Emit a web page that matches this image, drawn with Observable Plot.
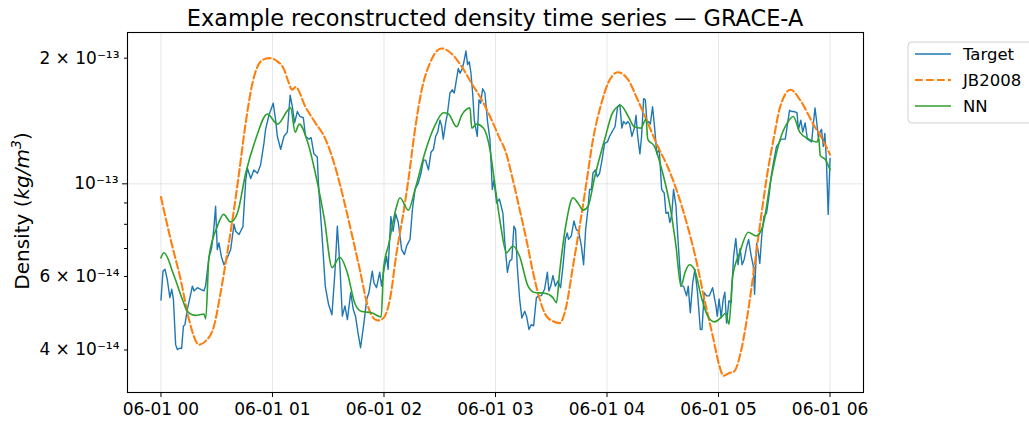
<!DOCTYPE html>
<html>
<head>
<meta charset="utf-8">
<script src="https://cdn.jsdelivr.net/npm/d3@7"></script>
<script src="https://cdn.jsdelivr.net/npm/@observablehq/plot@0.6"></script>
<style>
  html, body { margin: 0; padding: 0; background: #fff; }
  #chart { position: relative; width: 1029px; height: 421px; overflow: hidden; }
</style>
</head>
<body>
<div id="chart"></div>
<script>
// ---------------- data (time in minutes after 06-01 00:00, density in units of 1e-14 kg/m^3) ----------------
const UNIT = 1e-14;

const targetMinutes = [
  0,1.1,2.2,3.4,4.8,5.8,6.7,7.9,8.8,10.1,
  11.1,12.1,12.9,14.2,15.6,16.9,17.8,19.6,21.4,23.1,
  24.0,25.8,27.3,28.5,29.4,30.3,31.2,32.5,33.9,35.7,
  37.5,39.3,40.2,42.0,44.1,45.6,46.5,48.3,50.0,51.9,
  53.6,55.4,56.3,58.1,60.4,61.7,62.6,64.4,66.2,68.0,
  69.5,70.7,71.9,73.4,74.8,76.6,77.8,79.6,80.8,82.3,
  84.1,84.8,86.6,88.4,90.2,92.0,93.6,94.9,96.3,97.6,
  99.0,100.3,102.1,103.5,104.7,106.0,107.4,109.2,110.7,111.9,
  113.7,114.6,116.0,117.7,118.7,120.0,121.4,122.2,123.7,124.9,
  126.3,127.7,129.5,131.0,132.2,134.0,135.3,136.7,138.5,139.9,
  141.2,142.4,143.9,145.3,146.6,147.8,148.9,150.1,151.0,151.9,
  153.2,154.2,155.5,156.8,157.8,159.1,160.0,160.9,162.2,163.2,
  164.1,165.0,165.9,166.8,167.7,168.6,169.5,170.2,171.1,172.0,
  173.1,174.3,175.8,177.0,178.3,179.2,180.6,182.1,184.0,184.9,
  186.4,187.6,188.8,189.9,190.8,191.7,193.0,194.2,195.7,196.7,
  198.0,199.3,200.5,202.0,203.2,204.7,206.4,207.9,208.7,209.7,
  210.9,212.2,213.6,215.0,216.3,217.6,218.6,219.3,220.8,222.2,
  223.5,224.7,226.2,227.4,228.5,229.7,230.6,231.6,232.4,233.7,
  234.8,236.0,237.3,238.7,240.2,241.4,242.6,244.3,245.7,246.9,
  248.0,248.9,250.2,251.1,252.2,253.4,254.7,255.6,256.5,257.7,
  258.6,259.7,260.6,261.5,262.4,263.3,264.5,265.5,266.8,268.1,
  269.4,270.8,271.7,272.9,273.8,274.8,275.8,277.1,278.4,279.8,
  281.2,282.8,283.7,284.8,286.1,287.3,288.7,290.2,291.1,292.3,
  293.6,295.0,296.8,298.6,299.3,300.3,301.4,302.5,303.4,304.3,
  305.6,306.8,308.1,309.3,310.5,311.6,312.7,313.8,315.2,316.2,
  317.5,318.7,319.4,320.5,321.2,322.2,323.3,324.4,325.8,327.1,
  328.3,329.8,331.2,332.4,333.6,334.8,335.9,337.2,338.2,339.5,
  340.7,342.2,343.0,344.3,345.3,346.6,347.8,348.9,350.1,351.0,
  351.9,352.8,353.7,354.6,355.4,356.4,357.2,358.1,359.0,360.0
];
const targetDensity = [
  5.27,6.18,6.24,5.9,5.34,5.59,5.29,4.12,4.01,4.04,
  4.03,4.56,4.6,5.0,5.34,5.69,5.54,5.64,5.59,5.54,
  5.69,6.65,7.03,7.85,8.84,6.96,7.22,6.7,6.4,6.65,
  6.96,8.0,7.7,7.56,7.9,10.2,10.9,10.3,10.8,10.6,
  11.1,12.5,13.5,14.6,15.6,14.2,13.0,12.1,13.0,13.3,
  16.3,15.3,14.0,14.9,14.5,14.4,13.0,12.8,12.9,11.8,
  11.6,9.9,7.6,5.69,5.14,4.86,6.14,7.92,6.35,4.82,
  5.1,4.73,5.49,5.0,4.82,4.4,4.05,4.64,5.29,5.49,
  6.18,5.79,5.64,6.14,5.69,6.24,6.7,6.24,8.35,7.7,
  8.47,8.08,6.96,6.77,7.1,7.36,8.68,9.69,10.05,10.6,
  11.4,11.4,10.8,11.9,12.1,13.0,13.3,14.2,13.8,12.8,
  14.0,14.8,16.5,16.8,16.5,17.9,18.9,18.4,18.9,19.8,
  20.8,19.3,19.6,18.4,16.5,14.2,13.5,13.0,15.9,15.6,
  16.9,16.5,14.0,12.8,9.7,10.2,9.0,9.2,8.5,7.36,
  6.14,6.53,6.6,7.92,7.77,6.35,5.29,4.77,4.95,4.82,
  4.48,4.6,4.57,5.34,5.39,5.4,5.59,6.14,5.54,5.69,
  6.03,5.69,5.85,5.64,6.35,7.36,7.63,7.36,7.5,8.15,
  7.77,7.7,7.1,6.4,7.77,8.68,9.69,9.69,10.6,10.8,
  10.4,10.6,11.4,12.5,12.6,13.0,13.3,13.7,15.3,15.5,
  13.6,14.1,13.9,14.1,13.9,13.0,13.6,14.6,13.0,11.8,
  13.0,16.0,15.9,14.0,14.1,13.9,15.3,13.8,11.8,12.1,
  9.7,9.5,8.5,8.55,8.08,8.4,9.7,8.84,7.1,5.69,
  5.69,5.39,5.69,4.91,5.79,6.24,5.49,4.48,4.48,5.49,
  5.39,5.39,5.64,5.1,4.82,5.3,4.78,5.29,5.5,4.64,
  5.25,5.2,6.7,7.4,6.4,7.0,6.4,6.59,7.1,7.36,
  6.75,6.35,5.44,7.2,6.96,6.45,7.55,8.35,8.5,9.3,
  10.4,11.4,12.3,12.5,12.8,12.8,12.8,14.0,15.0,14.9,
  14.9,14.8,13.5,14.2,13.3,14.0,12.8,12.7,12.6,13.9,
  15.2,14.1,12.9,13.3,13.5,12.3,13.2,11.2,8.45,11.5
];

const jbMinutes = [
  0,5.2,10.6,15.1,20.4,24.0,28.5,32.1,35.7,39.3,
  42.0,45.6,49.2,54.6,58.3,63.0,66.2,68.7,70.5,72.5,
  77.7,83.1,88.5,92.9,96.5,100.1,103.7,107.3,110.8,115.4,
  117.1,119.7,123.2,126.8,130.4,133.1,136.7,140.3,144.8,151.0,
  156.4,161.8,167.2,172.6,178.0,182.4,185.0,189.4,193.0,196.6,
  200.2,203.8,207.4,210.9,214.5,218.1,221.7,225.3,228.9,232.5,
  237.0,240.5,245.8,251.2,256.5,261.9,267.3,272.6,278.0,283.4,
  287.9,292.4,296.9,300.5,302.6,305.5,308.3,311.9,315.5,319.1,
  322.7,326.3,329.9,333.0,338.8,343.8,351.4,355.0,360.0
];
const jbDensity = [
  9.3,7.36,5.9,4.73,4.12,4.2,4.56,5.49,6.84,8.68,
  10.6,14.0,17.4,19.8,20.0,19.6,18.8,17.5,16.8,17.05,
  15.3,14.0,12.8,11.3,9.9,8.5,7.24,6.14,5.19,4.73,
  4.71,4.77,5.29,6.85,8.5,10.2,13.5,16.8,19.5,21.1,
  20.5,19.1,17.4,15.9,14.2,12.8,12.1,10.2,8.68,7.36,
  6.14,5.29,4.82,4.69,4.64,5.1,6.35,7.92,10.05,12.8,
  15.6,17.4,18.5,17.8,15.9,14.0,12.3,11.0,9.5,7.9,
  6.59,5.29,4.32,3.66,3.47,3.52,3.55,3.94,4.82,6.24,
  8.22,10.6,13.0,15.2,16.8,15.9,13.8,13.0,11.75
];

const nnMinutes = [
  0,1.6,7.0,11.5,14.2,18.7,23.1,24.1,25.8,30.3,
  33.7,37.5,41.1,45.6,51.0,57.3,62.6,69.8,72.2,74.4,
  78.9,84.3,87.8,92.1,96.2,100.2,104.2,107.7,113.4,118.5,
  119.8,122.5,126.8,128.6,133.1,136.7,142.1,147.4,152.0,154.7,
  159.1,161.8,166.3,167.2,169.9,173.5,177.0,180.0,182.7,185.9,
  189.4,193.0,197.5,201.1,206.5,210.9,212.8,214.5,218.1,221.7,
  224.4,227.1,229.8,233.4,238.8,243.0,247.4,251.1,254.7,258.3,
  261.0,261.9,265.5,270.0,273.6,277.1,279.8,282.0,284.3,287.0,
  290.6,294.2,297.8,301.3,303.9,305.6,307.6,311.4,316.0,320.3,
  323.8,328.1,332.7,337.0,340.2,343.7,348.5,353.1,353.9,354.7,
  357.7,360.0
];
const nnDensity = [
  6.65,6.84,6.03,5.29,4.95,4.84,4.88,4.75,6.65,7.9,
  8.45,8.1,8.5,10.6,12.8,14.7,13.9,15.2,13.3,13.9,
  12.6,10.0,8.3,6.3,6.67,6.14,5.19,4.95,4.91,4.8,
  6.3,7.15,8.84,9.26,8.65,9.69,11.9,13.8,14.8,14.7,
  13.7,14.6,15.2,13.6,13.9,13.6,12.1,9.7,8.0,6.84,
  7.1,6.7,5.69,5.49,5.47,5.34,5.19,6.14,8.08,9.26,
  8.99,8.65,8.84,10.4,12.8,14.8,15.4,14.6,13.7,13.6,
  14.3,12.8,12.3,10.6,9.0,7.1,5.69,6.14,6.4,6.24,
  5.39,4.82,4.67,4.78,4.9,4.61,6.0,6.84,7.66,7.5,
  7.92,10.2,12.6,14.0,14.5,13.3,12.8,12.6,12.9,11.7,
  11.4,10.8
];

const seriesNames = ["Target", "JB2008", "NN"];
const xTickHours = [0, 1, 2, 3, 4, 5, 6];
const xTickLabels = ["06-01 00", "06-01 01", "06-01 02", "06-01 03", "06-01 04", "06-01 05", "06-01 06"];
const yMajorTicks = [1e-13];
const yMajorLabels = ["10⁻¹³"];
const yLabeledMinorTicks = [2e-13, 6e-14, 4e-14];
const yLabeledMinorLabels = ["2 × 10⁻¹³", "6 × 10⁻¹⁴", "4 × 10⁻¹⁴"];
const yPlainMinorTicks = [9e-14, 8e-14, 7e-14, 5e-14];
const titleText = "Example reconstructed density time series — GRACE-A";

// ---------------- build rows ----------------
const toRows = (mins, vals) => mins.map((m, i) => ({ hour: m / 60, density: vals[i] * UNIT }));
const targetRows = toRows(targetMinutes, targetDensity);
const jbRows = toRows(jbMinutes, jbDensity);
const nnRows = toRows(nnMinutes, nnDensity);

const colors = { Target: "#1f77b4", JB2008: "#ff7f0e", NN: "#2ca02c" };
const dash = "7.7,3.3";

const W = 1029, H = 421, mL = 127, mR = 166, mT = 32, mB = 29;
const font = "DejaVu Sans";

const svg = Plot.plot({
  width: W, height: H,
  marginLeft: mL, marginRight: mR, marginTop: mT, marginBottom: mB,
  style: { fontFamily: font, fontSize: "17px", color: "#000", background: "#fff", overflow: "visible" },
  x: { domain: [-0.3, 6.3], axis: null },
  y: { type: "log", domain: [3.164e-14, 2.304e-13], axis: null },
  marks: [
    Plot.gridX({ ticks: xTickHours, stroke: "#b0b0b0", strokeOpacity: 0.3, strokeWidth: 1 }),
    Plot.gridY({ ticks: yMajorTicks, stroke: "#b0b0b0", strokeOpacity: 0.3, strokeWidth: 1 }),
    Plot.line(targetRows, { x: "hour", y: "density", stroke: colors.Target, strokeWidth: 1.4 }),
    Plot.line(jbRows, { x: "hour", y: "density", stroke: colors.JB2008, strokeWidth: 2.1, strokeDasharray: dash, curve: "monotone-x" }),
    Plot.line(nnRows, { x: "hour", y: "density", stroke: colors.NN, strokeWidth: 1.6, curve: "monotone-x" }),
    Plot.axisX({ ticks: xTickHours, tickFormat: d => xTickLabels[xTickHours.indexOf(d)], tickSize: 5, tickPadding: 5, fontSize: 17, label: null }),
    Plot.axisY({ ticks: yMajorTicks, tickFormat: d => yMajorLabels[yMajorTicks.indexOf(d)], tickSize: 5, tickPadding: 4, fontSize: 17, label: null }),
    Plot.axisY({ ticks: yLabeledMinorTicks, tickFormat: d => yLabeledMinorLabels[yLabeledMinorTicks.indexOf(d)], tickSize: 3, tickPadding: 5, fontSize: 17, label: null }),
    Plot.axisY({ ticks: yPlainMinorTicks, tickFormat: () => "", tickSize: 3, label: null }),
    Plot.frame({ stroke: "#000", strokeWidth: 1.1 })
  ]
});

const s = d3.select(svg);

// title
s.append("text")
  .attr("x", mL + (W - mL - mR) / 2).attr("y", 26)
  .attr("text-anchor", "middle")
  .style("font-family", font).style("font-size", "22.4px").attr("fill", "#000")
  .text(titleText);

// y label
const yl = s.append("text")
  .attr("transform", `translate(29,${mT + (H - mT - mB) / 2 - 1}) rotate(-90)`)
  .attr("text-anchor", "middle")
  .style("font-family", font).style("font-size", "20px").attr("fill", "#000");
yl.append("tspan").text("Density (");
yl.append("tspan").style("font-style", "italic").text("kg/m");
yl.append("tspan").style("font-style", "italic").style("font-size", "14px").attr("dy", "-8").text("3");
yl.append("tspan").attr("dy", "8").text(")");

// legend
const lg = s.append("g").attr("transform", "translate(908,42)");
lg.append("rect").attr("x", 0).attr("y", 0).attr("width", 140).attr("height", 81)
  .attr("rx", 4).attr("fill", "#fff").attr("fill-opacity", 0.8).attr("stroke", "#d0d0d0").attr("stroke-width", 1);
seriesNames.forEach((name, i) => {
  const y = 12 + i * 26;
  const ln = lg.append("line").attr("x1", 7).attr("x2", 43).attr("y1", y).attr("y2", y)
    .attr("stroke", colors[name])
    .attr("stroke-width", name === "JB2008" ? 2.1 : (name === "NN" ? 1.6 : 1.4));
  if (name === "JB2008") ln.attr("stroke-dasharray", dash);
  lg.append("text").attr("x", 55).attr("y", y + 6)
    .attr("text-anchor", "start")
    .style("font-family", font).style("font-size", "16.5px").attr("fill", "#000").text(name);
});

document.getElementById("chart").appendChild(svg);
</script>
</body>
</html>
